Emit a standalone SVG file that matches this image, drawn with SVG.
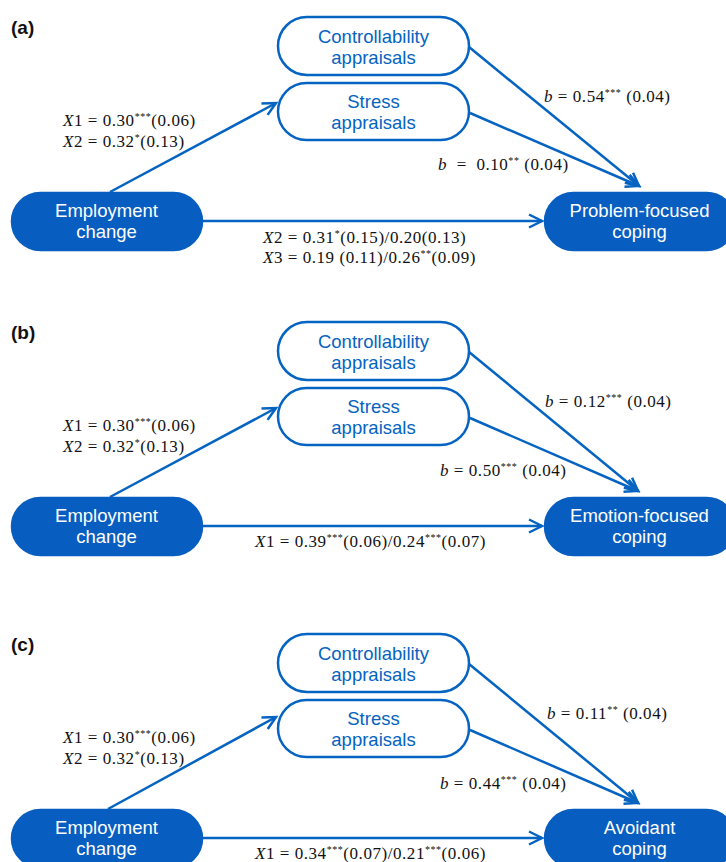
<svg xmlns="http://www.w3.org/2000/svg" width="726" height="862" viewBox="0 0 726 862">
<style>
.bg{fill:#fff}
.no rect{fill:#fff;stroke:#0563C1;stroke-width:2.5}
.nf rect{fill:#075EC0;stroke:#075EC0;stroke-width:2.5}
.nt{font-family:"Liberation Sans",Arial,sans-serif;font-size:18.5px;text-anchor:middle}
.no text{fill:#0563C1}
.nf text{fill:#fff}
.lbl{font-family:"Liberation Serif","Times New Roman",serif;font-size:17px;letter-spacing:0.55px;fill:#111}
.it{font-style:italic}
.sup{font-size:10px}
.pl{font-family:"Liberation Sans",Arial,sans-serif;font-weight:bold;font-size:19px;fill:#111}
.conn line{stroke:#0563C1;stroke-width:2.5;marker-end:url(#arr)}
</style>
<defs>
<marker id="arr" markerUnits="userSpaceOnUse" markerWidth="18" markerHeight="18" viewBox="0 0 18 18" refX="15" refY="9" orient="auto">
<path d="M2,2.5 L15,9 L2,15.5" fill="none" stroke="#0563C1" stroke-width="2.5"/>
</marker>
</defs>
<rect class="bg" x="0" y="0" width="726" height="862"/>

<!-- Panel (a) -->
<g id="panel-a">
<text class="pl" x="11" y="34">(a)</text>
<g class="conn" id="conn-a">
<line x1="110" y1="192" x2="276" y2="103"/>
<line x1="202" y1="221" x2="542" y2="221"/>
<line x1="469" y1="47" x2="639" y2="186"/>
<line x1="470" y1="113" x2="639" y2="186"/>
</g>
<g id="a-controllability" class="no"><rect x="278" y="17" width="191" height="58" rx="29"/><text class="nt" x="373.5" y="43">Controllability</text><text class="nt" x="373.5" y="64">appraisals</text></g>
<g id="a-stress" class="no"><rect x="278" y="83" width="191" height="57" rx="28.5"/><text class="nt" x="373.5" y="108">Stress</text><text class="nt" x="373.5" y="129">appraisals</text></g>
<g id="a-employment" class="nf"><rect x="12" y="193" width="190" height="57" rx="28.5"/><text class="nt" x="106.5" y="217">Employment</text><text class="nt" x="106.5" y="238">change</text></g>
<g id="a-problem" class="nf"><rect x="545" y="193" width="190" height="57" rx="28.5"/><text class="nt" x="639.5" y="217">Problem-focused</text><text class="nt" x="639.5" y="238">coping</text></g>
<text class="lbl" x="63" y="126"><tspan class="it">X</tspan>1 = 0.30<tspan class="sup" dy="-6">***</tspan><tspan dy="6">(0.06)</tspan></text>
<text class="lbl" x="63" y="147"><tspan class="it">X</tspan>2 = 0.32<tspan class="sup" dy="-6">*</tspan><tspan dy="6">(0.13)</tspan></text>
<text class="lbl" x="544" y="102"><tspan class="it">b</tspan> = 0.54<tspan class="sup" dy="-6">***</tspan><tspan dy="6"> (0.04)</tspan></text>
<text class="lbl" x="438" y="170"><tspan class="it">b</tspan>&#160; =&#160; 0.10<tspan class="sup" dy="-6">**</tspan><tspan dy="6"> (0.04)</tspan></text>
<text class="lbl" x="263" y="243"><tspan class="it">X</tspan>2 = 0.31<tspan class="sup" dy="-6">*</tspan><tspan dy="6">(0.15)/0.20(0.13)</tspan></text>
<text class="lbl" x="263" y="263"><tspan class="it">X</tspan>3 = 0.19 (0.11)/0.26<tspan class="sup" dy="-6">**</tspan><tspan dy="6">(0.09)</tspan></text>
</g>

<!-- Panel (b) -->
<g id="panel-b" transform="translate(0,305)">
<text class="pl" x="11" y="34">(b)</text>
<g class="conn" id="conn-b">
<line x1="110" y1="192" x2="276" y2="103"/>
<line x1="202" y1="221" x2="542" y2="221"/>
<line x1="469" y1="47" x2="638" y2="186"/>
<line x1="470" y1="113" x2="638" y2="186"/>
</g>
<g id="b-controllability" class="no"><rect x="278" y="17" width="191" height="58" rx="29"/><text class="nt" x="373.5" y="43">Controllability</text><text class="nt" x="373.5" y="64">appraisals</text></g>
<g id="b-stress" class="no"><rect x="278" y="83" width="191" height="57" rx="28.5"/><text class="nt" x="373.5" y="108">Stress</text><text class="nt" x="373.5" y="129">appraisals</text></g>
<g id="b-employment" class="nf"><rect x="12" y="193" width="190" height="57" rx="28.5"/><text class="nt" x="106.5" y="217">Employment</text><text class="nt" x="106.5" y="238">change</text></g>
<g id="b-emotion" class="nf"><rect x="545" y="193" width="190" height="57" rx="28.5"/><text class="nt" x="639.5" y="217">Emotion-focused</text><text class="nt" x="639.5" y="238">coping</text></g>
<text class="lbl" x="63" y="126"><tspan class="it">X</tspan>1 = 0.30<tspan class="sup" dy="-6">***</tspan><tspan dy="6">(0.06)</tspan></text>
<text class="lbl" x="63" y="147"><tspan class="it">X</tspan>2 = 0.32<tspan class="sup" dy="-6">*</tspan><tspan dy="6">(0.13)</tspan></text>
<text class="lbl" x="545" y="102"><tspan class="it">b</tspan> = 0.12<tspan class="sup" dy="-6">***</tspan><tspan dy="6"> (0.04)</tspan></text>
<text class="lbl" x="440" y="171"><tspan class="it">b</tspan> = 0.50<tspan class="sup" dy="-6">***</tspan><tspan dy="6"> (0.04)</tspan></text>
<text class="lbl" x="255" y="242"><tspan class="it">X</tspan>1 = 0.39<tspan class="sup" dy="-6">***</tspan><tspan dy="6">(0.06)/0.24</tspan><tspan class="sup" dy="-6">***</tspan><tspan dy="6">(0.07)</tspan></text>
</g>

<!-- Panel (c) -->
<g id="panel-c" transform="translate(0,617)">
<text class="pl" x="11" y="34">(c)</text>
<g class="conn" id="conn-c">
<line x1="108" y1="192" x2="276" y2="100"/>
<line x1="202" y1="221" x2="542" y2="221"/>
<line x1="469" y1="47" x2="638" y2="186"/>
<line x1="470" y1="113" x2="638" y2="186"/>
</g>
<g id="c-controllability" class="no"><rect x="278" y="17" width="191" height="58" rx="29"/><text class="nt" x="373.5" y="43">Controllability</text><text class="nt" x="373.5" y="64">appraisals</text></g>
<g id="c-stress" class="no"><rect x="278" y="83" width="191" height="57" rx="28.5"/><text class="nt" x="373.5" y="108">Stress</text><text class="nt" x="373.5" y="129">appraisals</text></g>
<g id="c-employment" class="nf"><rect x="12" y="193" width="190" height="57" rx="28.5"/><text class="nt" x="106.5" y="217">Employment</text><text class="nt" x="106.5" y="238">change</text></g>
<g id="c-avoidant" class="nf"><rect x="545" y="193" width="190" height="57" rx="28.5"/><text class="nt" x="639.5" y="217">Avoidant</text><text class="nt" x="639.5" y="238">coping</text></g>
<text class="lbl" x="63" y="126"><tspan class="it">X</tspan>1 = 0.30<tspan class="sup" dy="-6">***</tspan><tspan dy="6">(0.06)</tspan></text>
<text class="lbl" x="63" y="147"><tspan class="it">X</tspan>2 = 0.32<tspan class="sup" dy="-6">*</tspan><tspan dy="6">(0.13)</tspan></text>
<text class="lbl" x="547" y="102"><tspan class="it">b</tspan> = 0.11<tspan class="sup" dy="-6">**</tspan><tspan dy="6"> (0.04)</tspan></text>
<text class="lbl" x="440" y="172"><tspan class="it">b</tspan> = 0.44<tspan class="sup" dy="-6">***</tspan><tspan dy="6"> (0.04)</tspan></text>
<text class="lbl" x="255" y="242"><tspan class="it">X</tspan>1 = 0.34<tspan class="sup" dy="-6">***</tspan><tspan dy="6">(0.07)/0.21</tspan><tspan class="sup" dy="-6">***</tspan><tspan dy="6">(0.06)</tspan></text>
</g>
</svg>
